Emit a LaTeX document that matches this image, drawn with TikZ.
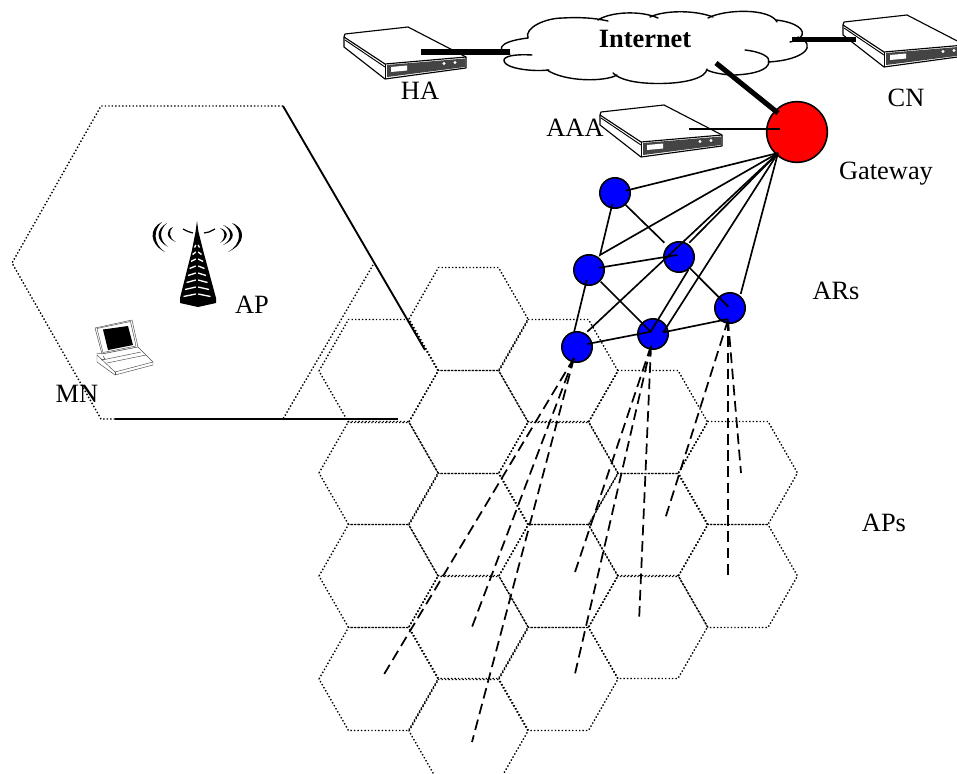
\documentclass[tikz,border=0pt]{standalone}
\usepackage{fontspec}
\setmainfont{Liberation Serif}
\definecolor{panel}{HTML}{444444}
\tikzset{
  x=0.75pt,y=-0.75pt,
  lbl/.style={anchor=base,inner sep=0pt,font=\fontsize{19.8}{24}\selectfont},
  blue node/.style={circle,draw=black,fill=blue,line width=1.2pt,minimum size=22.8pt,inner sep=0pt},
  red node/.style={circle,draw=black,fill=red,line width=1.2pt,minimum size=45.5pt,inner sep=0pt},
  hexline/.style={line width=1.05pt,dash pattern=on 1.05pt off 1.55pt},
  link/.style={line width=1.25pt},
  thick link/.style={line width=3.8pt},
  fan/.style={line width=1.3pt,dash pattern=on 8pt off 4.2pt},
  cloudline/.style={line width=1.05pt,line cap=round},
  thin part/.style={line width=0.35pt,draw=black!70},
  serverpic/.pic={
    \draw[fill=white,line width=0.85pt,line join=round] (0,0)--(63,-7)--(121,23)--(121,34)--(40,45)--(-1,13)--(-1,3)--cycle;
    \draw[line width=0.85pt] (-1,3)--(40,30)--(121,23);
    \draw[line width=0.7pt] (0,6)--(40,33);
    \fill[panel] (42,31)--(120,24.5)--(120,33)--(42,43)--cycle;
    \draw[line width=0.6pt] (40,30)--(40,45);
    \fill[white] (46,33)--(62,31.5)--(62,36.5)--(46,38)--cycle;
    \fill[white] (99,29.5) circle[radius=1.7] (110,28.5) circle[radius=1.7];
  },
  hexcell/.pic={
    \draw[hexline] (-59.5,0)--(-30,-51.5)--(30,-51.5)--(59.5,0)--(30,51.5)--(-30,51.5)--cycle;
  }
}
\begin{document}
\begin{tikzpicture}
\useasboundingbox (0,0) rectangle (957,774);
\clip (0,0) rectangle (957,774);
% small hexagon cells
\foreach \cx/\cy in {378.5/371,378.5/473,378.5/576,378.5/679,
  468.5/319,468.5/422,468.5/525,468.5/627,468.5/731,
  558.5/371,558.5/473,558.5/576,558.5/679,
  648/422,648/525,648/627,
  738/473,738/576}
  \pic at (\cx,\cy) {hexcell};
% large cell
\draw[hexline] (283,106)--(101,106)--(12,263)--(101,419)--(283,419)--(373,265);
\coordinate (bigTop) at (283,106);
\coordinate (bigRight) at (425,350);
\coordinate (bigLow) at (115,419);
\coordinate (bigEnd) at (398,419);
\draw[line width=1.4pt] (bigTop)--(bigRight);
\draw[line width=1.4pt] (bigLow)--(bigEnd);
% servers
\pic at (345,34) {serverpic};
\pic at (844,22) {serverpic};
\pic at (601,112) {serverpic};
% cloud
\fill[white] (510,54)--(497,45)--(527,30)--(563,18)--(620,13)--(677,12)--(740,12)--(777,22)--(803,28)--(813,47)--(768,62)--(747,74)--(703,75)--(670,83)--(617,75)--(587,80)--(547,70)--(507,68)--cycle;
\draw[cloudline] (532,55) .. controls (515,54) and (503,56) .. (504,61) .. controls (505,68) and (530,72) .. (549,70);
\draw[cloudline] (510,54) .. controls (498,52) and (494,42) .. (528,38);
\draw[cloudline] (528,38) .. controls (524,28) and (545,18) .. (563,18) .. controls (580,17) and (595,18) .. (608,21);
\draw[cloudline] (598,20) .. controls (610,12) and (640,10) .. (658,18);
\draw[cloudline] (650,17) .. controls (665,10) and (695,10) .. (713,17);
\draw[cloudline] (708,18) .. controls (725,9) and (770,8) .. (777,22);
\draw[cloudline] (776,20) .. controls (795,22) and (808,30) .. (800,38) .. controls (798,40) and (795,41) .. (790,42);
\draw[cloudline] (798,37) .. controls (818,45) and (805,60) .. (768,62);
\draw[cloudline] (745,50) .. controls (762,52) and (770,57) .. (769,62) .. controls (768,70) and (755,74) .. (735,75) .. controls (725,75) and (713,73) .. (707,70);
\draw[cloudline] (707,69) .. controls (706,78) and (685,84) .. (655,83.5) .. controls (635,83) and (620,80) .. (613,73);
\draw[cloudline] (617,75) .. controls (605,82) and (565,82) .. (547,70);
% labels
\node[lbl,font=\fontsize{19.8}{24}\selectfont\bfseries] (internet) at (645,48) {Internet};
\node[lbl] (ha) at (420,99) {HA};
\node[lbl] (cn) at (906,107) {CN};
\node[lbl] (aaa) at (575,137) {AAA};
\node[lbl] (gwl) at (886,179) {Gateway};
\node[lbl] (ars) at (836,299) {ARs};
\node[lbl] (aps) at (884,531) {APs};
\node[lbl] (apl) at (252,313) {AP};
\node[lbl] (mnl) at (77,402) {MN};
% routers
\node[red node] (gw) at (797,132) {};
\node[blue node] (T) at (615,193) {};
\node[blue node] (A) at (589,270) {};
\node[blue node] (B) at (679,257) {};
\node[blue node] (C) at (730,308) {};
\node[blue node] (D) at (653,334) {};
\node[blue node] (E) at (577,347) {};
% connector ends
\coordinate (G) at (778,153);
\coordinate (Tg) at (625.7,190.7);
\coordinate (Ta) at (612.3,204);
\coordinate (Tb) at (625.7,205);
\coordinate (Atop) at (600,255);
\coordinate (Btop) at (664.3,242.7);
\coordinate (Ab) at (599.3,267.7);
\coordinate (Ba) at (677.3,255);
\coordinate (Eg) at (587.3,331.7);
\coordinate (Bg) at (689.3,242.7);
\coordinate (Db) at (650.7,331.7);
\coordinate (Bd) at (688.3,270);
\coordinate (Bc) at (690,268.3);
\coordinate (Cb) at (728.3,306.7);
\coordinate (Dg) at (663.3,332.3);
\coordinate (Cg) at (740.7,294);
\coordinate (Ad) at (600.7,281.7);
\coordinate (Ed) at (587.3,344);
\coordinate (Cd) at (728.3,319);
\coordinate (Ae) at (586.7,280);
\coordinate (Ea) at (574,332.3);
\draw[link] (Tg)--(G);
\draw[link] (Ta)--(Atop)--(G);
\draw[link] (Tb)--(Btop);
\draw[link] (Ab)--(Ba);
\draw[link] (Eg)--(G);
\draw[link] (Bg)--(G);
\draw[link] (Db)--(Bd);
\draw[link] (Bc)--(Cb);
\draw[link] (Dg)--(G);
\draw[link] (Cg)--(G);
\draw[link] (Ad)--(Db);
\draw[link] (Ed)--(Db);
\draw[link] (Dg)--(Cd);
\draw[link] (Ae)--(Ea);
% backbone
\coordinate (haEnd) at (421,52);
\coordinate (haCloud) at (510,52);
\coordinate (cnEnd) at (856,39.5);
\coordinate (cnCloud) at (792,39.5);
\coordinate (netGw) at (716,63);
\coordinate (gwNet) at (778,113);
\coordinate (aaaEnd) at (689,129);
\coordinate (gwAaa) at (780,129);
\draw[thick link] (haEnd)--(haCloud);
\draw[thick link] (cnCloud)--(cnEnd);
\draw[thick link] (netGw)--(gwNet);
\draw[link] (aaaEnd)--(gwAaa);
% dashed fans
\coordinate (Ef) at (574,358);
\coordinate (Df) at (651,346);
\coordinate (Cf) at (728,320);
\foreach \ex/\ey in {383/676,472/627,472/742}{\coordinate (fe) at (\ex,\ey); \draw[fan] (Ef)--(fe);}
\foreach \ex/\ey in {574/575,574/678,639/622}{\coordinate (fe) at (\ex,\ey); \draw[fan] (Df)--(fe);}
\foreach \ex/\ey in {665/519,728/576,741/473}{\coordinate (fe) at (\ex,\ey); \draw[fan] (Cf)--(fe);}
% tower
\fill[black] (197,221)--(198.5,232)--(203,250)--(216,298)--(216,303)--(198,307)--(180,303)--(180,298)--(192,250)--(195.5,232)--cycle;
\foreach \ry/\rw in {246/2.5,253/4.5,260/6,267/7.5,274/9,281/10.5,288/12,295/13.5}{
  \draw[white,line width=1pt] (197-\rw,\ry+1.5)--(195.8,\ry-1);
  \draw[white,line width=1pt] (197+\rw,\ry+1.5)--(198.2,\ry-1);
}
\draw[line width=0.9pt] (183,229)--(188,231.5)--(193,233);
\draw[line width=0.9pt] (204,233)--(209,232)--(215,229);
% radio waves
\fill (162,222) .. controls (149,228) and (149,244) .. (165,252) .. controls (153,244) and (153,230) .. (162,222);
\fill (167,223) .. controls (155.5,230) and (155.5,240) .. (168,247) .. controls (159,240) and (159,230) .. (167,223);
\fill (173,227) .. controls (165.5,230) and (165.5,238) .. (176,242) .. controls (168.5,238) and (168.5,231) .. (173,227);
\fill (232,223) .. controls (246,228) and (246,244) .. (228,252) .. controls (242,244) and (242,230) .. (232,223);
\fill (223,225) .. controls (236,230) and (236,240) .. (223,245) .. controls (232.5,240) and (232.5,230) .. (223,225);
\fill (220,228) .. controls (229,231) and (229,238) .. (220,243) .. controls (226,238) and (226,231) .. (220,228);
% laptop
\draw[thin part,fill=white,line join=round] (95,328)--(132,320)--(138,347)--(102,354)--cycle;
\draw[thin part] (97,328.5)--(130.5,321.5)--(136,346)--(103,352.5)--cycle;
\fill[black] (103,329.5)--(128,326)--(133,345)--(108,350)--cycle;
\draw[thin part,fill=white,line join=round] (97,353)--(102,354)--(138,347)--(153,362)--(153,365)--(115,375)--(97,362)--cycle;
\draw[thin part] (97,355)--(115,372)--(153,362);
\draw[thin part] (102,360)--(141,352);
\draw[thin part] (115,372)--(115,375);
\draw[thin part] (103,356)--(105,359)--(101,360);
\draw[thin part] (107,363)--(146,355);
\end{tikzpicture}
\end{document}
